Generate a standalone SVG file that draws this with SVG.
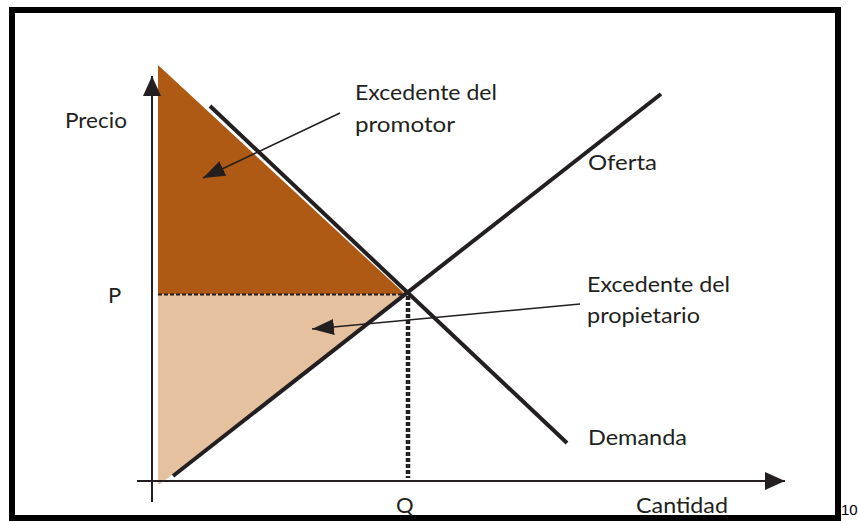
<svg xmlns="http://www.w3.org/2000/svg" width="858" height="521" viewBox="0 0 858 521">
<style>
.lbl{font-family:Lato,"Open Sans","Liberation Sans",sans-serif;font-size:22px;fill:#231f20}
.ax{stroke:#231f20;stroke-width:2;fill:none}
.curve{stroke:#231f20;stroke-width:4;fill:none;stroke-linecap:butt}
.lead{stroke:#231f20;stroke-width:1.6;fill:none}
</style>
<defs>
<marker id="lh" markerWidth="22" markerHeight="16" viewBox="0 0 22 16" refX="22" refY="8" orient="auto" markerUnits="userSpaceOnUse">
<path d="M0,0 L22,8 L0,16 Z" fill="#231f20"/>
</marker>
<marker id="axh" markerWidth="20" markerHeight="18" viewBox="0 0 20 18" refX="20" refY="9" orient="auto" markerUnits="userSpaceOnUse">
<path d="M0,0 L20,9 L0,18 Z" fill="#231f20"/>
</marker>
</defs>
<rect x="0" y="0" width="858" height="521" fill="#ffffff"/>
<rect x="12" y="10" width="826" height="508" fill="none" stroke="#000" stroke-width="6"/>
<text x="841" y="515" font-family="Liberation Sans,Arial,sans-serif" font-size="15" fill="#000">10</text>

<g id="areas">
<polygon id="excedente-promotor-area" points="158,65 158,294 405,294" fill="#af5a14"/>
<polygon id="excedente-propietario-area" points="158,294 405,294 160,484 158,484" fill="#e5c1a0"/>
</g>

<g id="axes">
<line class="ax" x1="152" y1="502" x2="152" y2="76" marker-end="url(#axh)"/>
<line class="ax" x1="137" y1="481" x2="785" y2="481" marker-end="url(#axh)"/>
</g>

<g id="connectors">
<line id="guide-p" x1="158" y1="294.5" x2="404" y2="294.5" stroke="#231f20" stroke-width="2" stroke-dasharray="4,2"/>
<line id="guide-q" x1="408" y1="296" x2="408" y2="478" stroke="#231f20" stroke-width="4.5" stroke-dasharray="4,2"/>
<line id="demanda-line" class="curve" x1="210" y1="106" x2="567" y2="443"/>
<line id="oferta-line" class="curve" x1="173" y1="476" x2="661" y2="94"/>
<line id="leader-promotor" class="lead" x1="340" y1="113" x2="203" y2="178" marker-end="url(#lh)"/>
<line id="leader-propietario" class="lead" x1="580" y1="304" x2="312" y2="329" marker-end="url(#lh)"/>
</g>

<g id="label-precio"><text class="lbl" x="65" y="128" textLength="62" lengthAdjust="spacingAndGlyphs">Precio</text></g>
<g id="label-p"><text class="lbl" x="108" y="303">P</text></g>
<g id="label-q"><text class="lbl" x="396" y="513">Q</text></g>
<g id="label-cantidad"><text class="lbl" x="636" y="513" textLength="92" lengthAdjust="spacingAndGlyphs">Cantidad</text></g>
<g id="label-promotor"><text class="lbl" x="355" y="100" textLength="142" lengthAdjust="spacingAndGlyphs">Excedente del</text><text class="lbl" x="355" y="132" textLength="100" lengthAdjust="spacingAndGlyphs">promotor</text></g>
<g id="label-oferta"><text class="lbl" x="588" y="170" textLength="69" lengthAdjust="spacingAndGlyphs">Oferta</text></g>
<g id="label-propietario"><text class="lbl" x="587" y="292" textLength="143" lengthAdjust="spacingAndGlyphs">Excedente del</text><text class="lbl" x="587" y="323" textLength="113" lengthAdjust="spacingAndGlyphs">propietario</text></g>
<g id="label-demanda"><text class="lbl" x="588" y="445" textLength="99" lengthAdjust="spacingAndGlyphs">Demanda</text></g>
</svg>
